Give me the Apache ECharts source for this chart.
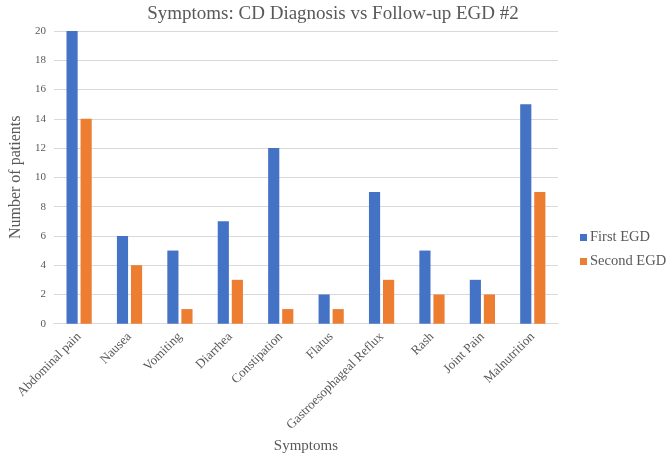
<!DOCTYPE html>
<html>
<head>
<meta charset="utf-8">
<script src="https://cdn.jsdelivr.net/npm/echarts@6/dist/echarts.min.js"></script>
<style>html,body{margin:0;padding:0;background:#fff}#c{width:666px;height:459px}</style>
</head>
<body>
<div id="c"></div>
<script>
const categories = ['Abdominal pain','Nausea','Vomiting','Diarrhea','Constipation','Flatus','Gastroesophageal Reflux','Rash','Joint Pain','Malnutrition'];
const firstEGD = [20,6,5,7,12,2,9,5,3,15];
const secondEGD = [14,4,1,3,1,1,3,2,2,9];
const seriesNames = ['First EGD','Second EGD'];
const yTicks = {min:0, max:20, interval:2};

const font = 'Liberation Serif';
const txt = '#595959';
const chart = echarts.init(document.getElementById('c'));
chart.setOption({
  animation:false,
  textStyle:{fontFamily:font},
  title:{text:'Symptoms: CD Diagnosis vs Follow-up EGD #2', left:'center', top:0,
    textStyle:{fontFamily:font, fontSize:19, fontWeight:'normal', color:txt}},
  legend:{orient:'vertical', left:575, top:225, itemWidth:7, itemHeight:7, itemGap:9,
    icon:'rect', textStyle:{fontFamily:font, fontSize:14.5, color:txt, padding:[0,0,0,-2]},
    data:seriesNames},
  grid:{left:35, right:108, top:31, bottom:131, containLabel:false},
  xAxis:{type:'category', data:categories, name:'Symptoms', nameLocation:'middle', nameGap:115,
    nameTextStyle:{fontFamily:font, fontSize:15, color:txt},
    axisLine:{lineStyle:{color:'#D9D9D9'}}, axisTick:{show:false},
    axisLabel:{rotate:45, interval:0, fontFamily:font, fontSize:13, color:txt, margin:11}},
  yAxis:{type:'value', min:yTicks.min, max:yTicks.max, interval:yTicks.interval,
    name:'Number of patients', nameLocation:'middle', nameRotate:90, nameGap:20,
    nameTextStyle:{fontFamily:font, fontSize:16, color:txt},
    axisLine:{show:false}, axisTick:{show:false},
    axisLabel:{fontFamily:font, fontSize:11, color:txt, margin:8},
    splitLine:{lineStyle:{color:'#D9D9D9'}}},
  series:[
    {name:seriesNames[0], type:'bar', data:firstEGD, barGap:'26%', barCategoryGap:'50%', itemStyle:{color:'#4472C4'}},
    {name:seriesNames[1], type:'bar', data:secondEGD, itemStyle:{color:'#ED7D31'}}
  ]
});
</script>
</body>
</html>
